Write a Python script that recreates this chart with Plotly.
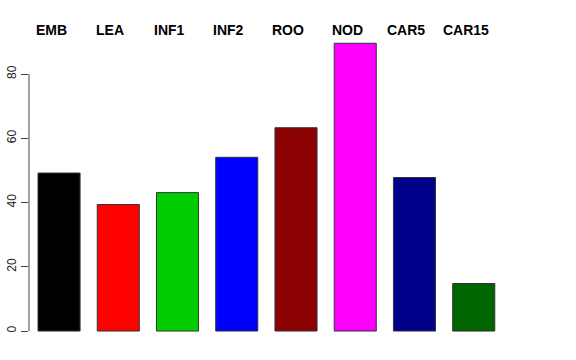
import plotly.graph_objects as go

categories = ["EMB", "LEA", "INF1", "INF2", "ROO", "NOD", "CAR5", "CAR15"]
values = [49.2, 39.4, 43.1, 54.1, 63.3, 89.6, 47.8, 14.8]
colors = ["#000000", "#FF0000", "#00CD00", "#0000FF", "#8B0000", "#FF00FF", "#00008B", "#006400"]
ytick_vals = [0, 20, 40, 60, 80]

xpos = list(range(len(categories)))

fig = go.Figure()
fig.add_trace(go.Bar(
    x=xpos, y=values, width=0.71,
    marker=dict(color=colors, line=dict(color="#333333", width=1)),
    hoverinfo="skip",
))

for i, c in enumerate(categories):
    fig.add_annotation(
        x=xpos[i], y=1, xref="x", yref="paper", text="<b>%s</b>" % c,
        showarrow=False, xanchor="center", yanchor="middle", yshift=3, xshift=-8,
        font=dict(family="Liberation Sans, Arial", size=14, color="black"),
    )

# y axis line spanning tick range only (R style)
fig.add_shape(type="line", xref="paper", yref="y", x0=0, x1=0,
              y0=ytick_vals[0], y1=ytick_vals[-1], line=dict(color="#444444", width=1))

fig.update_layout(
    width=576, height=360,
    margin=dict(l=29, r=30, t=33, b=19, autoexpand=False),
    plot_bgcolor="white", paper_bgcolor="white",
    showlegend=False,
    xaxis=dict(range=[-0.507, 8.22], showgrid=False, zeroline=False, showline=False,
               showticklabels=False, ticks="", automargin=False),
    yaxis=dict(range=[-3.1, 92.8], showgrid=False, zeroline=False, showline=False,
               tickvals=ytick_vals, ticks="outside", ticklen=7, tickcolor="#444444",
               tickangle=-90, automargin=False,
               tickfont=dict(family="Liberation Sans, Arial", size=12, color="#222222")),
)

fig.write_html("out.html", post_script="document.body.style.margin='0';",
               config={"displayModeBar": False, "staticPlot": True})
